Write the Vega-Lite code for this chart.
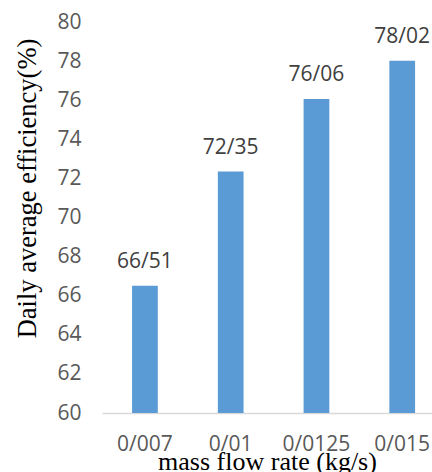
{
  "$schema": "https://vega.github.io/schema/vega-lite/v6.json",
  "width": 330,
  "height": 391,
  "autosize": "none",
  "padding": {"left": 102, "top": 22, "right": 0, "bottom": 59},
  "background": "white",
  "config": {"view": {"stroke": null}},
  "data": {
    "values": [
      {"rate": "0/007", "eff": 66.51},
      {"rate": "0/01", "eff": 72.35},
      {"rate": "0/0125", "eff": 76.06},
      {"rate": "0/015", "eff": 78.02}
    ]
  },
  "transform": [
    {"calculate": "replace(format(datum.eff, '.2f'), '.', '/')", "as": "label"}
  ],
  "encoding": {
    "x": {
      "field": "rate",
      "type": "nominal",
      "sort": null,
      "scale": {"paddingInner": 0.7, "paddingOuter": 0.274, "align": 0.64},
      "axis": {
        "title": "mass flow rate (kg/s)",
        "titleFont": "Liberation Serif",
        "titleFontSize": 26,
        "titleFontWeight": "normal",
        "titleColor": "#000000",
        "titleBaseline": "alphabetic",
        "titleY": 56,
        "labelAngle": 0,
        "labelFont": "Open Sans",
        "labelFontSize": 21,
        "labelColor": "#595959",
        "labelBaseline": "alphabetic",
        "labelPadding": 37,
        "ticks": false,
        "domainColor": "#d9d9d9",
        "domainWidth": 1.5,
        "grid": false
      }
    },
    "y": {
      "field": "eff",
      "type": "quantitative",
      "scale": {"domain": [60, 80], "nice": false, "zero": false},
      "axis": {
        "title": "Daily average efficiency(%)",
        "titleFont": "Liberation Serif",
        "titleFontSize": 26.5,
        "titleFontWeight": "normal",
        "titleColor": "#000000",
        "titleAngle": -90,
        "titleAlign": "center",
        "titleBaseline": "alphabetic",
        "titleX": -67,
        "titleY": 166,
        "values": [60, 62, 64, 66, 68, 70, 72, 74, 76, 78, 80],
        "labelFont": "Open Sans",
        "labelFontSize": 21,
        "labelColor": "#595959",
        "labelPadding": 21,
        "ticks": false,
        "domain": false,
        "grid": false
      }
    }
  },
  "layer": [
    {
      "mark": {"type": "bar", "color": "#5b9bd5", "clip": true}
    },
    {
      "mark": {
        "type": "text",
        "font": "Open Sans",
        "fontSize": 21,
        "color": "#404040",
        "baseline": "alphabetic",
        "dy": -18
      },
      "encoding": {"text": {"field": "label"}}
    }
  ]
}
